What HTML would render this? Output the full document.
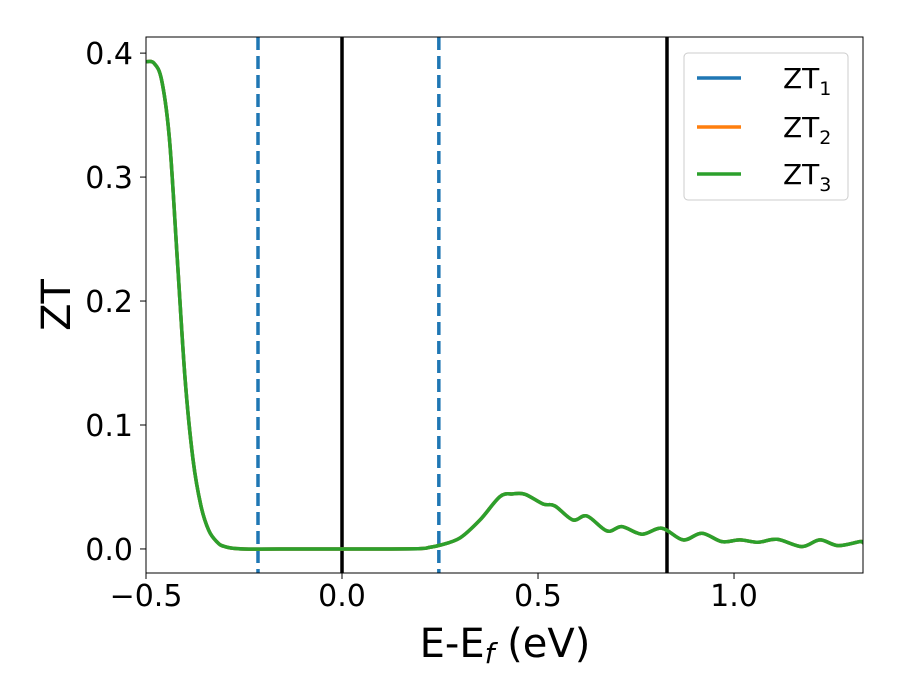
<!DOCTYPE html>
<html><head><meta charset="utf-8"><style>
body{margin:0;background:#fff}
svg{display:block;font-family:"DejaVu Sans","Liberation Sans",sans-serif}
</style></head><body>
<svg id="c" width="900" height="700"></svg>
<script>
const xs=[-0.5,-0.48,-0.46,-0.44,-0.42,-0.40,-0.38,-0.36,-0.34,-0.32,-0.30,-0.25,-0.1,0.1,0.2,0.224,0.25,0.301,0.352,0.403,0.436,0.467,0.513,0.543,0.589,0.625,0.676,0.714,0.765,0.816,0.870,0.918,0.969,1.015,1.061,1.110,1.173,1.219,1.265,1.321,1.329];
const zt=[0.393,0.392,0.378,0.33,0.233,0.136,0.072,0.035,0.015,0.006,0.002,0.0,0.0,0.0,0.0003,0.0014,0.003,0.0089,0.0234,0.0422,0.0444,0.0441,0.0363,0.0347,0.0234,0.0266,0.0145,0.0180,0.0119,0.0167,0.0073,0.0127,0.0059,0.0073,0.0054,0.0078,0.0019,0.0073,0.0027,0.0059,0.005];
const xTicks=[-0.5,0.0,0.5,1.0];
const xTickLabels=["\u22120.5","0.0","0.5","1.0"];
const yTicks=[0.0,0.1,0.2,0.3,0.4];
const yTickLabels=["0.0","0.1","0.2","0.3","0.4"];
const dashedLines=[-0.2143,0.247];
const solidLines=[0.0,0.829];
const L=146,R=863,T=37,B=573,x0=-0.5,x1=1.329,y0=-0.0194,y1=0.413;
const X=v=>L+(v-x0)/(x1-x0)*(R-L), Y=v=>B-(v-y0)/(y1-y0)*(B-T);
const svg=document.getElementById('c'),NS='http://www.w3.org/2000/svg';
function mk(t,a,p){const e=document.createElementNS(NS,t);for(const k in a)e.setAttribute(k,a[k]);(p||svg).appendChild(e);return e;}
const defs=mk('defs',{});const cp=mk('clipPath',{id:'cl'},defs);mk('rect',{x:L,y:T,width:R-L,height:B-T},cp);
const g=mk('g',{'clip-path':'url(#cl)'});
dashedLines.forEach(v=>{const e=mk('line',{x1:X(v),x2:X(v),y1:T,y2:B,stroke:'#1f77b4','stroke-width':3.5,'stroke-dasharray':'13,6'},g);

});
solidLines.forEach(v=>{const e=mk('line',{x1:X(v),x2:X(v),y1:T,y2:B,stroke:'#000','stroke-width':3.5},g);

});
function path(){const p=xs.map((x,i)=>[X(x),Y(zt[i])]);let d='M'+p[0][0]+','+p[0][1];
for(let i=0;i<p.length-1;i++){const a=p[Math.max(i-1,0)],b=p[i],c=p[i+1],e=p[Math.min(i+2,p.length-1)];
d+=' C'+(b[0]+(c[0]-a[0])/6)+','+(b[1]+(c[1]-a[1])/6)+' '+(c[0]-(e[0]-b[0])/6)+','+(c[1]-(e[1]-b[1])/6)+' '+c[0]+','+c[1];}return d;}
[['#1f77b4','zt1'],['#ff7f0e','zt2'],['#2ca02c','zt3']].forEach(([c,n])=>{const e=mk('path',{d:path(),fill:'none',stroke:c,'stroke-width':3.5},g);

});
const fr=mk('rect',{x:L,y:T,width:R-L,height:B-T,fill:'none',stroke:'#000','stroke-width':1});


xTicks.forEach((v,i)=>{mk('line',{x1:X(v),x2:X(v),y1:B,y2:B+6,stroke:'#000','stroke-width':1});
const t=mk('text',{x:X(v),y:B+33,'font-size':30,'text-anchor':'middle'});t.textContent=xTickLabels[i];

});
yTicks.forEach((v,i)=>{mk('line',{x1:L-6,x2:L,y1:Y(v),y2:Y(v),stroke:'#000','stroke-width':1});
const t=mk('text',{x:L-13,y:Y(v)+11,'font-size':30,'text-anchor':'end'});t.textContent=yTickLabels[i];

});
</script>
<svg width="900" height="700" style="position:absolute;left:0;top:0;font-family:'DejaVu Sans','Liberation Sans',sans-serif">
<text x="505" y="657" font-size="40" text-anchor="middle">E-E<tspan font-size="28" dy="6" font-style="italic">f</tspan><tspan dy="-6"> (eV)</tspan></text>
<text transform="translate(70,305) rotate(-90)" font-size="40" text-anchor="middle">ZT</text>
<g>
<rect x="684" y="53" width="164" height="147" rx="4" fill="#fff" fill-opacity="0.8" stroke="#ccc"/>
<g><line x1="697" x2="741" y1="78" y2="78" stroke="#1f77b4" stroke-width="3.5"/><text x="783" y="88" font-size="28">ZT<tspan font-size="19" dy="7">1</tspan></text></g>
<g><line x1="697" x2="741" y1="127" y2="127" stroke="#ff7f0e" stroke-width="3.5"/><text x="783" y="137" font-size="28">ZT<tspan font-size="19" dy="7">2</tspan></text></g>
<g><line x1="697" x2="741" y1="174" y2="174" stroke="#2ca02c" stroke-width="3.5"/><text x="783" y="184" font-size="28">ZT<tspan font-size="19" dy="7">3</tspan></text></g>
</g>
</svg>
</body></html>
